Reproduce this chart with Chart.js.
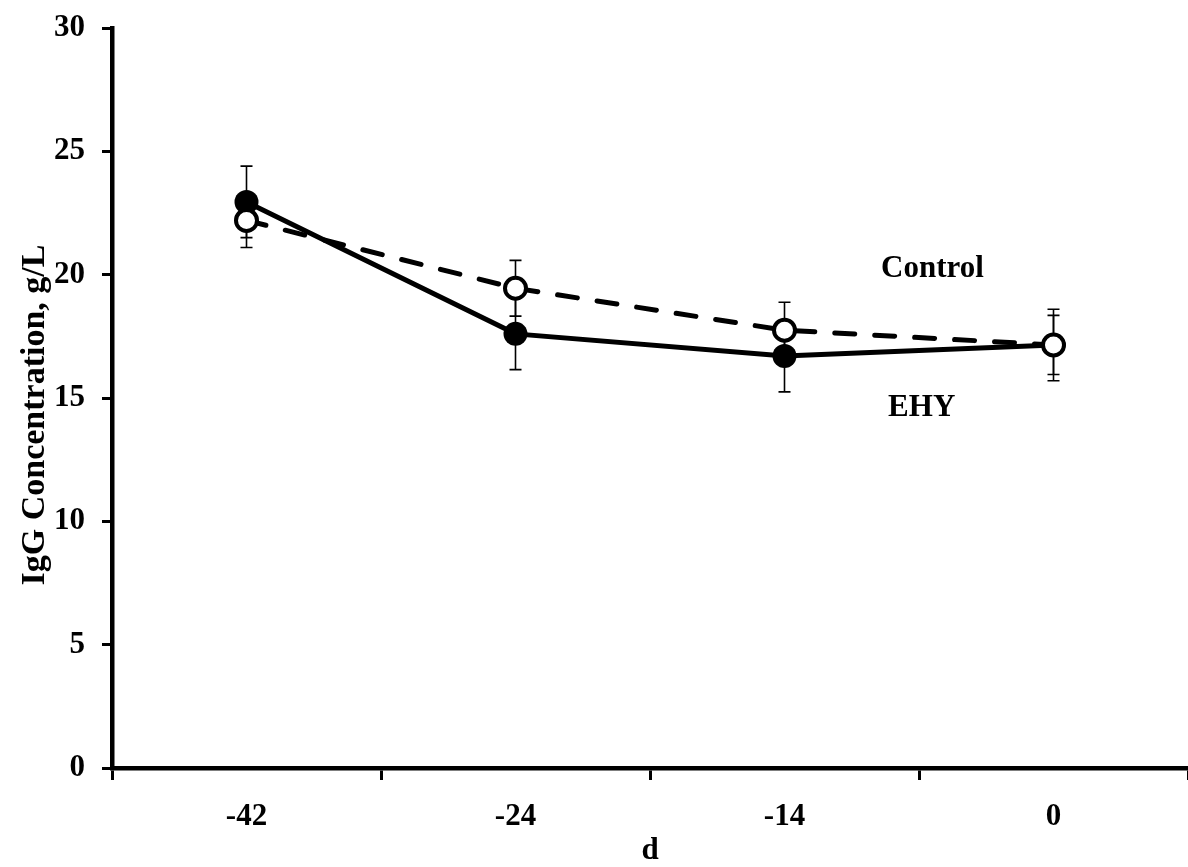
<!DOCTYPE html>
<html>
<head>
<meta charset="utf-8">
<script src="https://cdn.jsdelivr.net/npm/chart.js@4.4.0/dist/chart.umd.min.js"></script>
<style>
html,body{margin:0;padding:0;background:#fff;}
#wrap{width:1188px;height:867px;position:relative;}
</style>
</head>
<body>
<div id="wrap"><canvas id="c" width="1188" height="867"></canvas></div>
<script>
// ---- data ----
const categories = ['-42', '-24', '-14', '0'];
const ehyValues = [22.95, 17.6, 16.7, 17.15];
const ehyErrors = [1.45, 1.45, 1.45, 1.45];
const controlValues = [22.2, 19.45, 17.75, 17.15];
const controlErrors = [1.1, 1.13, 1.13, 1.2];
const yTicks = [0, 5, 10, 15, 20, 25, 30];
const seriesLabels = [
  {text: 'Control', x: 2.55, y: 20.25},
  {text: 'EHY', x: 2.51, y: 14.6}
];
const yTitle = 'IgG Concentration, g/L';
const xTitle = 'd';

const FONT = '"Liberation Serif", "Times New Roman", serif';

const errorBarPlugin = {
  id: 'errorBars',
  beforeDatasetsDraw(chart) {
    const ctx = chart.ctx;
    const xs = chart.scales.x, ys = chart.scales.y;
    const sets = [[ehyValues, ehyErrors], [controlValues, controlErrors]];
    ctx.save();
    ctx.strokeStyle = '#000';
    ctx.lineWidth = 1.6;
    sets.forEach(([vals, errs]) => {
      vals.forEach((v, i) => {
        const x = xs.getPixelForValue(i);
        const yt = ys.getPixelForValue(v + errs[i]);
        const yb = ys.getPixelForValue(v - errs[i]);
        ctx.beginPath();
        ctx.moveTo(x, yt); ctx.lineTo(x, yb);
        ctx.moveTo(x - 6, yt); ctx.lineTo(x + 6, yt);
        ctx.moveTo(x - 6, yb); ctx.lineTo(x + 6, yb);
        ctx.stroke();
      });
    });
    ctx.restore();
  },
  afterDatasetsDraw(chart) {
    const ctx = chart.ctx;
    const xs = chart.scales.x, ys = chart.scales.y;
    ctx.save();
    ctx.fillStyle = '#000';
    ctx.font = 'bold 31px ' + FONT;
    ctx.textAlign = 'center';
    ctx.textBaseline = 'middle';
    const x0 = xs.getPixelForValue(0), x1 = xs.getPixelForValue(1);
    seriesLabels.forEach(l => {
      const px = x0 + (x1 - x0) * l.x;
      ctx.fillText(l.text, px, ys.getPixelForValue(l.y));
    });
    // y-axis title
    ctx.save();
    ctx.translate(35, (ys.top + ys.bottom) / 2 + 17);
    ctx.rotate(-Math.PI / 2);
    ctx.font = 'bold 34px ' + FONT;
    ctx.fillText(yTitle, 0, 0);
    ctx.restore();
    ctx.restore();
  }
};

new Chart(document.getElementById('c'), {
  type: 'line',
  data: {
    labels: categories,
    datasets: [
      {
        label: 'Control',
        data: controlValues,
        order: 0,
        borderColor: '#000',
        borderWidth: 5,
        borderDash: [20, 20],
        borderCapStyle: 'round',
        pointStyle: 'circle',
        pointRadius: 10.5,
        pointBorderWidth: 4,
        pointBackgroundColor: '#fff',
        pointBorderColor: '#000',
        tension: 0,
        fill: false
      },
      {
        label: 'EHY',
        data: ehyValues,
        order: 1,
        borderColor: '#000',
        borderWidth: 5,
        pointStyle: 'circle',
        pointRadius: 12,
        pointBorderWidth: 0,
        pointBackgroundColor: '#000',
        pointBorderColor: '#000',
        tension: 0,
        fill: false
      }
    ]
  },
  options: {
    responsive: false,
    animation: false,
    devicePixelRatio: 1,
    layout: {autoPadding: false, padding: {top: 28, right: -5, bottom: 0, left: 0}},
    plugins: {legend: {display: false}, tooltip: {enabled: false}},
    scales: {
      x: {
        type: 'category',
        offset: true,
        grid: {offset: true, drawOnChartArea: false, drawTicks: true, tickLength: 12, tickWidth: 3, tickColor: '#000'},
        border: {display: true, color: '#000', width: 4.5},
        ticks: {color: '#000', font: {family: FONT, size: 31, weight: 'bold'}, padding: 18, maxRotation: 0},
        title: {display: true, text: xTitle, color: '#000', font: {family: FONT, size: 31, weight: 'bold'}, padding: {top: 4, bottom: -3}},
        afterFit(s) { s.height = 99; s.paddingLeft = 0; s.paddingRight = 0; }
      },
      y: {
        min: 0, max: 30,
        afterBuildTicks(s) { s.ticks = yTicks.map(v => ({value: v})); },
        grid: {drawOnChartArea: false, drawTicks: true, tickLength: 10, tickWidth: 3, tickColor: '#000'},
        border: {display: true, color: '#000', width: 4.5},
        ticks: {color: '#000', font: {family: FONT, size: 31, weight: 'bold'}, padding: 17},
        title: {display: false},
        afterFit(s) { s.width = 112; s.paddingTop = 0; s.paddingBottom = 0; }
      }
    }
  },
  plugins: [errorBarPlugin]
});
</script>
</body>
</html>
